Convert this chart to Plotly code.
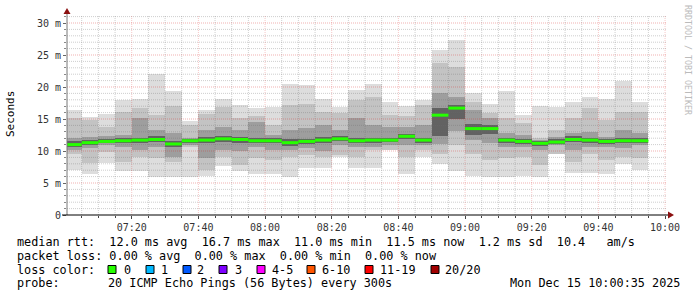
import plotly.graph_objects as go
import pandas as pd

# ---------------- data ----------------
interval_end = pd.date_range("2025-12-15 07:05", periods=35, freq="5min")

median_ms = [11.0, 11.3, 11.5, 11.6, 11.7, 11.8, 11.1, 11.6, 11.7, 11.9,
             11.8, 11.6, 11.6, 11.3, 11.5, 11.7, 11.9, 11.6, 11.7, 11.7,
             12.3, 11.7, 15.6, 16.7, 13.5, 13.5, 11.7, 11.5, 11.2, 11.4,
             11.8, 11.7, 11.5, 11.6, 11.6]
max_ms = [16.4, 15.3, 15.8, 17.9, 18.1, 22.0, 19.3, 14.7, 16.4, 18.1,
          17.2, 16.7, 16.8, 20.5, 20.3, 18.2, 16.9, 19.6, 20.5, 17.6,
          17.0, 18.0, 25.8, 27.3, 19.0, 17.4, 19.4, 15.6, 17.0, 16.8,
          17.7, 18.5, 18.2, 21.0, 17.7]
min_ms = [7.0, 6.4, 8.1, 6.9, 6.9, 5.9, 5.9, 5.9, 6.1, 7.7,
          6.8, 6.4, 6.4, 6.0, 7.3, 7.3, 9.0, 7.4, 7.4, 10.2,
          6.4, 9.0, 8.0, 6.9, 6.1, 5.9, 5.9, 6.1, 6.0, 9.5,
          6.6, 6.6, 6.4, 8.0, 7.0]
mid_hi = [15.1, 14.8, 13.8, 16.1, 16.7, 15.6, 17.0, 14.1, 15.8, 16.9,
          15.1, 15.4, 14.1, 17.2, 17.4, 16.1, 15.9, 18.0, 18.5, 15.6,
          15.4, 17.2, 23.7, 23.2, 17.7, 16.0, 15.1, 14.3, 12.0, 13.3,
          15.1, 16.7, 14.8, 16.1, 16.1]
mid_lo = [9.5, 8.1, 9.9, 8.3, 9.1, 8.9, 8.3, 10.7, 7.0, 9.1,
          7.8, 8.9, 8.6, 9.1, 9.4, 9.1, 9.4, 9.1, 10.2, 10.2,
          9.1, 10.2, 9.6, 11.0, 9.6, 8.6, 8.9, 9.1, 7.8, 9.6,
          8.3, 9.6, 8.6, 9.1, 8.9]
dark_hi = [12.0, 12.2, 12.3, 12.5, 15.1, 13.3, 12.8, 12.0, 13.3, 13.8,
           13.3, 14.6, 12.5, 13.3, 13.6, 14.1, 13.3, 15.1, 14.1, 13.8,
           13.8, 14.1, 19.0, 18.5, 16.4, 15.1, 12.8, 12.5, 11.7, 12.2,
           12.8, 13.0, 12.2, 13.3, 12.8]
dark_lo = [10.2, 10.4, 10.9, 10.7, 10.2, 10.7, 9.1, 11.0, 8.9, 10.2,
           10.0, 10.7, 10.2, 10.2, 10.4, 10.0, 10.9, 10.7, 10.7, 10.9,
           10.9, 10.9, 11.1, 13.1, 11.7, 11.2, 10.6, 10.6, 10.2, 10.9,
           10.2, 10.7, 10.7, 10.4, 10.9]
core_hi = [11.5, 11.7, 11.9, 12.0, 12.1, 12.3, 11.6, 11.9, 12.2, 12.3,
           12.2, 12.0, 12.0, 11.8, 11.9, 12.2, 12.4, 12.1, 12.1, 12.0,
           12.7, 12.1, 16.7, 17.2, 14.2, 14.1, 12.1, 11.9, 11.6, 11.8,
           12.3, 12.1, 11.9, 12.1, 12.0]
core_lo = [10.6, 10.9, 11.2, 11.2, 11.2, 11.4, 10.6, 11.3, 11.2, 11.4,
           11.3, 11.2, 11.2, 10.8, 11.1, 11.3, 11.5, 11.2, 11.3, 11.4,
           11.8, 11.3, 12.3, 15.0, 12.5, 12.6, 11.2, 11.1, 10.8, 11.1,
           11.4, 11.3, 11.1, 11.2, 11.2]

y_tick_vals = [0, 5, 10, 15, 20, 25, 30]
y_tick_text = ["0", "5 m", "10 m", "15 m", "20 m", "25 m", "30 m"]

legend_lines = [
    "median rtt:  12.0 ms avg  16.7 ms max  11.0 ms min  11.5 ms now  1.2 ms sd  10.4   am/s",
    "packet loss: 0.00 % avg  0.00 % max  0.00 % min  0.00 % now",
]
loss_labels = ["0", "1", "2", "3", "4-5", "6-10", "11-19", "20/20"]
loss_colors = ["#26ff00", "#00b8ff", "#0059ff", "#7e00ff", "#ff00ff",
               "#ff5500", "#ff0000", "#a10000"]
probe_text = "20 ICMP Echo Pings (56 Bytes) every 300s"
date_text = "Mon Dec 15 10:00:35 2025"

# ---------------- figure ----------------
W, H = 697, 297
L, R, T, B = 67, 667, 15, 215   # plot area in pixels
PW, PH = R - L, B - T


def px(x):
    return (x - L) / PW


def py(y):
    return (B - y) / PH


centers = interval_end - pd.Timedelta(seconds=150)
starts = interval_end - pd.Timedelta(minutes=5)
x_range = ["2025-12-15 07:00:35", "2025-12-15 10:00:35"]
Y_MAX = PH / 6.4

fig = go.Figure()

layers = [
    (min_ms, max_ms, "#dddddd"),
    (mid_lo, mid_hi, "#c3c3c3"),
    (dark_lo, dark_hi, "#9e9e9e"),
    (core_lo, core_hi, "#626262"),
]
for lo, hi, col in layers:
    fig.add_trace(go.Bar(
        x=centers, base=lo, y=[h - l for l, h in zip(lo, hi)],
        width=300000, marker=dict(color=col, line=dict(width=0)),
        hoverinfo="skip", showlegend=False))

# grid lines drawn above the smoke (as in rrdtool)
t0 = pd.Timestamp("2025-12-15 07:05")
grid_times = pd.date_range(t0, "2025-12-15 10:00", freq="5min")
minor_x, major_x = [], []
for t in grid_times:
    tgt = major_x if t.minute % 20 == 0 else minor_x
    tgt += [t, t, None]
minor_xy = [0, Y_MAX, None] * (len(minor_x) // 3)
major_xy = [0, Y_MAX, None] * (len(major_x) // 3)
minor_h_y, major_h_y, minor_h_x, major_h_x = [], [], [], []
for v in range(1, 32):
    if v % 5 == 0:
        major_h_y += [v, v, None]
        major_h_x += [x_range[0], x_range[1], None]
    else:
        minor_h_y += [v, v, None]
        minor_h_x += [x_range[0], x_range[1], None]

minor_col = "rgba(110,110,110,0.33)"
major_col_v = "rgba(220,40,40,0.26)"
major_col_h = "rgba(220,40,40,0.36)"
for xs, ys, col in [(minor_x, minor_xy, minor_col), (minor_h_x, minor_h_y, minor_col),
                    (major_x, major_xy, major_col_v), (major_h_x, major_h_y, major_col_h)]:
    fig.add_trace(go.Scatter(x=xs, y=ys, mode="lines",
                             line=dict(color=col, width=1, dash="1px,1px"),
                             hoverinfo="skip", showlegend=False))

# median line segments
mx, my = [], []
for s, e, m in zip(starts, interval_end, median_ms):
    mx += [s, e, None]
    my += [m, m, None]
fig.add_trace(go.Scatter(x=mx, y=my, mode="lines",
                         line=dict(color="#26ff00", width=3),
                         hoverinfo="skip", showlegend=False))

mono = "DejaVu Sans Mono"
fig.update_layout(
    width=W, height=H,
    margin=dict(l=L, r=W - R, t=T, b=H - B, pad=0),
    paper_bgcolor="white", plot_bgcolor="white",
    barmode="overlay", bargap=0,
    showlegend=False,
    xaxis=dict(type="date", range=x_range, showgrid=False, zeroline=False,
               tick0="2025-12-15 07:00", dtick=1200000, tickformat="%H:%M",
               ticks="outside", ticklen=3, tickcolor="#444",
               tickfont=dict(family=mono, size=10, color="#333"),
               minor=dict(dtick=300000, ticks="outside", ticklen=2, tickcolor="#444",
                          showgrid=False),
               showline=False),
    yaxis=dict(range=[0, Y_MAX], showgrid=False, zeroline=False,
               tickvals=y_tick_vals, ticktext=y_tick_text,
               ticks="outside", ticklen=3, tickcolor="#666",
               tickfont=dict(family=mono, size=10, color="#333"),
               minor=dict(dtick=1, ticks="outside", ticklen=2, tickcolor="#888",
                          showgrid=False),
               showline=False),
)

shapes = []
# left axis (grey) and bottom axis (black)
shapes.append(dict(type="line", xref="paper", yref="paper", x0=0, x1=0,
                   y0=0, y1=py(11), line=dict(color="#777", width=1), layer="above"))
shapes.append(dict(type="line", xref="paper", yref="paper", x0=px(62), x1=px(669),
                   y0=0, y1=0, line=dict(color="#000", width=1), layer="above"))
# arrow heads
shapes.append(dict(type="path", xref="paper", yref="paper",
                   path=f"M {px(63.5)} {py(14)} L {px(70.5)} {py(14)} L {px(67)} {py(8)} Z",
                   fillcolor="#8b1010", line=dict(width=0), layer="above"))
shapes.append(dict(type="path", xref="paper", yref="paper",
                   path=f"M {px(668)} {py(211.5)} L {px(668)} {py(218.5)} L {px(674)} {py(215)} Z",
                   fillcolor="#8b1010", line=dict(width=0), layer="above"))

annotations = []


def txt(x, y, s, size=11.8, color="#000", family=mono, **kw):
    annotations.append(dict(x=px(x), y=py(y), xref="paper", yref="paper",
                            text=s, showarrow=False, xanchor=kw.pop("xanchor", "left"),
                            yanchor="middle", borderpad=0,
                            font=dict(family=family, size=size, color=color), **kw))


txt(16, 241.5, legend_lines[0].replace(" ", "&nbsp;"))
txt(16, 255.5, legend_lines[1].replace(" ", "&nbsp;"))
txt(16, 269.5, "loss&nbsp;color:")
sq_x = [108, 146, 183, 219, 257, 307, 365, 431]
lab_x = [123, 160, 196, 234, 271, 321, 379, 444]
for sx, lx, lab, col in zip(sq_x, lab_x, loss_labels, loss_colors):
    shapes.append(dict(type="rect", xref="paper", yref="paper",
                       x0=px(sx), x1=px(sx + 8), y0=py(273.5), y1=py(265.5),
                       fillcolor=col, line=dict(color="#000", width=1), layer="above"))
    txt(lx, 269.5, lab)
txt(16, 283, "probe:")
txt(107, 283, probe_text.replace(" ", "&nbsp;"))
txt(681, 283, date_text.replace(" ", "&nbsp;"), xanchor="right")

# axis title and watermark
txt(10, 114, "Seconds", size=11, family=mono, xanchor="center", textangle=-90)
txt(688, 60, "RRDTOOL&nbsp;/&nbsp;TOBI&nbsp;OETIKER", size=8.3, color="#bbbbbb",
    xanchor="center", textangle=90)

fig.update_layout(shapes=shapes, annotations=annotations)
fig.write_html("out.html")
